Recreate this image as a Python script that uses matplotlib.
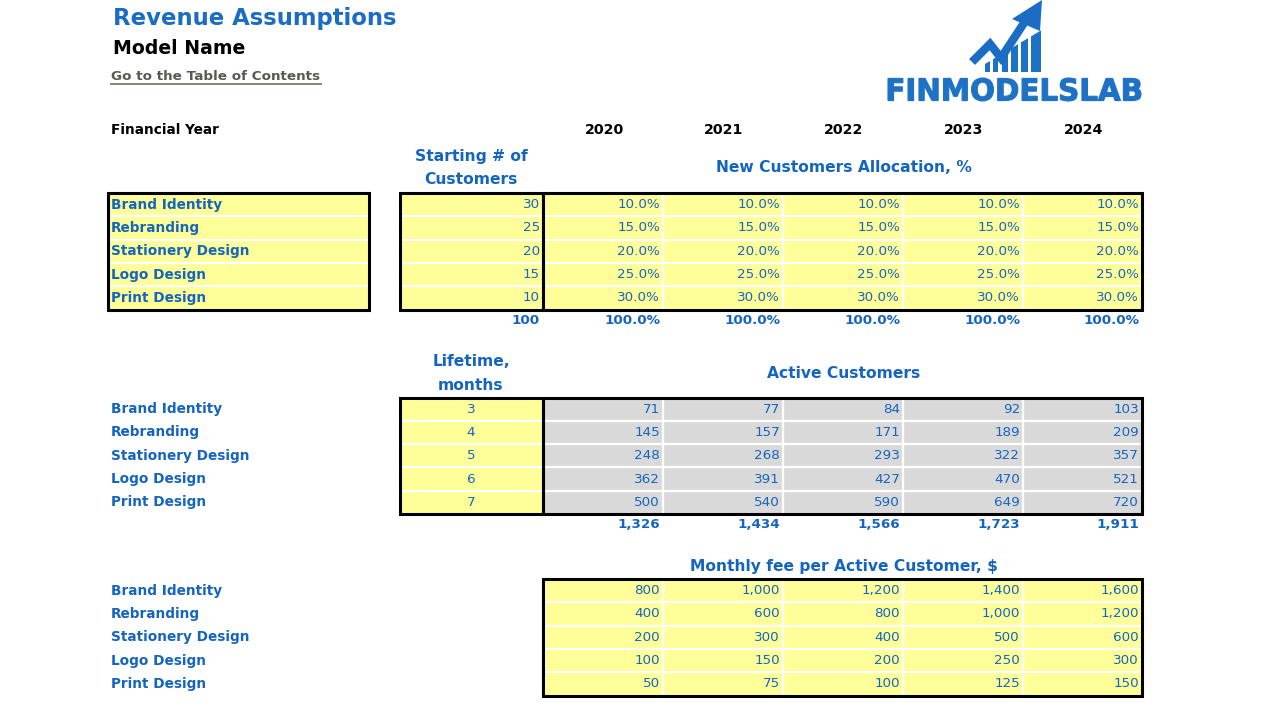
import numpy as np
import matplotlib.pyplot as plt
from matplotlib.patches import Rectangle, Polygon, PathPatch
from matplotlib.textpath import TextPath
from matplotlib.font_manager import FontProperties
from matplotlib.transforms import Affine2D

# ---- data read from the sheet ----
years = ['2020', '2021', '2022', '2023', '2024']
products = ['Brand Identity', 'Rebranding', 'Stationery Design', 'Logo Design', 'Print Design']
start_customers = [30, 25, 20, 15, 10]
start_total = 100
allocation = [
    [10.0, 10.0, 10.0, 10.0, 10.0],
    [15.0, 15.0, 15.0, 15.0, 15.0],
    [20.0, 20.0, 20.0, 20.0, 20.0],
    [25.0, 25.0, 25.0, 25.0, 25.0],
    [30.0, 30.0, 30.0, 30.0, 30.0],
]
allocation_totals = [100.0, 100.0, 100.0, 100.0, 100.0]
lifetime_months = [3, 4, 5, 6, 7]
active_customers = [
    [71, 77, 84, 92, 103],
    [145, 157, 171, 189, 209],
    [248, 268, 293, 322, 357],
    [362, 391, 427, 470, 521],
    [500, 540, 590, 649, 720],
]
active_totals = [1326, 1434, 1566, 1723, 1911]
monthly_fee = [
    [800, 1000, 1200, 1400, 1600],
    [400, 600, 800, 1000, 1200],
    [200, 300, 400, 500, 600],
    [100, 150, 200, 250, 300],
    [50, 75, 100, 125, 150],
]

BLUE = '#1565BF'
TITLE_BLUE = '#1A6CC4'
LOGO_BLUE = '#1E72C6'
YELLOW = '#FFFF99'
GREY = '#D9D9D9'
FONT = 'DejaVu Sans'
FS = 9.7      # cell values
FS_LAB = 9.8  # bold row labels
FS_HEAD = 11.2

fig = plt.figure(figsize=(12.8, 7.2), dpi=100)
ax = fig.add_axes([0, 0, 1, 1])
ax.set_xlim(0, 1280)
ax.set_ylim(720, 0)
ax.axis('off')

col_edges = [543, 663, 783, 903, 1023, 1142]
row_h = 23.3


def block(x0, x1, y0, fill, vlines=()):
    y1 = y0 + row_h * 5
    ax.add_patch(Rectangle((x0, y0), x1 - x0, y1 - y0, facecolor=fill, edgecolor='none', zorder=1))
    for i in range(1, 5):
        ax.plot([x0, x1], [y0 + i * row_h] * 2, color='white', lw=1.6, zorder=2)
    for xv in vlines:
        ax.plot([xv, xv], [y0, y1], color='white', lw=1.6, zorder=2)
    ax.add_patch(Rectangle((x0, y0), x1 - x0, y1 - y0, facecolor='none', edgecolor='black', lw=2.2, zorder=3))


def cell_text(x, y, s, ha='right', bold=False, color=BLUE, size=FS):
    ax.text(x, y, s, ha=ha, va='center', fontsize=size, family=FONT,
            fontweight='bold' if bold else 'normal', color=color, zorder=4)


def heading(x, y, s):
    ax.text(x, y, s, ha='center', va='center', fontsize=FS_HEAD, fontweight='bold', color=BLUE, family=FONT)


def row_labels(y0, x=111):
    for i, p in enumerate(products):
        cell_text(x, y0 + (i + 0.5) * row_h, p, ha='left', bold=True, size=FS_LAB)


# ---- header ----
ax.text(113, 18, 'Revenue Assumptions', fontsize=16.4, fontweight='bold', color=TITLE_BLUE,
        va='center', ha='left', family=FONT)
ax.text(113, 48, 'Model Name', fontsize=13.6, fontweight='bold', color='black',
        va='center', ha='left', family=FONT)
ax.text(111, 76, 'Go to the Table of Contents', fontsize=9.7, fontweight='bold', color='#5E574E',
        va='center', ha='left', family=FONT)
ax.plot([111, 321], [84, 84], color='#8A8478', lw=1.4)

# ---- logo ----
bar_x = [(985, 990), (993, 998), (1002, 1008), (1011, 1018), (1021, 1028), (1031, 1041)]
for xa, xb in bar_x:
    ax.add_patch(Polygon([(xa, 72), (xb, 72), (xb, 64 - (xb - 985) * 0.6), (xa, 64 - (xa - 985) * 0.6)],
                         closed=True, facecolor=LOGO_BLUE, edgecolor='none'))
ax.plot([972, 979, 990, 1001, 1024], [62, 55, 44, 58, 23], color=TITLE_BLUE, lw=6,
        solid_joinstyle='miter', solid_capstyle='butt')
ax.add_patch(Polygon([(1042, 0), (1012, 19), (1040, 31)], closed=True, facecolor=TITLE_BLUE, edgecolor='none'))

tp = TextPath((0, 0), 'FINMODELSLAB', size=30, prop=FontProperties(family=FONT, weight='bold'))
ext = tp.get_extents()
lx0, lx1, ly_top, ly_bot = 888, 1141, 78, 101
sx = (lx1 - lx0) / ext.width
sy = (ly_bot - ly_top) / ext.height
trans = Affine2D().translate(-ext.x0, -ext.y0).scale(sx, -sy).translate(lx0, ly_bot)
ax.add_patch(PathPatch(trans.transform_path(tp), facecolor=LOGO_BLUE, edgecolor=LOGO_BLUE, lw=0.8))

# ---- year row ----
ax.text(111, 130, 'Financial Year', fontsize=9.8, fontweight='bold', color='black', va='center', family=FONT)
for j, y in enumerate(years):
    ax.text((col_edges[j] + col_edges[j + 1]) / 2 + 1, 130, y, fontsize=10.2, fontweight='bold',
            color='black', ha='center', va='center', family=FONT)

# ---- section 1: starting customers / allocation ----
s1 = 193
heading(471, 157, 'Starting # of')
heading(471, 180, 'Customers')
heading(844, 168, 'New Customers Allocation, %')
block(108, 369, s1, YELLOW)
block(400, 543, s1, YELLOW)
block(543, 1142, s1, YELLOW, vlines=col_edges[1:-1])
row_labels(s1)
for i in range(5):
    yc = s1 + (i + 0.5) * row_h
    cell_text(540, yc, str(start_customers[i]))
    for j in range(5):
        cell_text(col_edges[j + 1] - 3, yc, f'{allocation[i][j]:.1f}%')
cell_text(540, 321, str(start_total), bold=True)
for j in range(5):
    cell_text(col_edges[j + 1] - 3, 321, f'{allocation_totals[j]:.1f}%', bold=True)

# ---- section 2: lifetime / active customers ----
s2 = 397.5
heading(471, 362, 'Lifetime,')
heading(471, 385, 'months')
heading(844, 373, 'Active Customers')
block(400, 543, s2, YELLOW)
block(543, 1142, s2, GREY, vlines=col_edges[1:-1])
row_labels(s2)
for i in range(5):
    yc = s2 + (i + 0.5) * row_h
    cell_text(471, yc, str(lifetime_months[i]), ha='center')
    for j in range(5):
        cell_text(col_edges[j + 1] - 3, yc, f'{active_customers[i][j]:,}')
for j in range(5):
    cell_text(col_edges[j + 1] - 3, 525, f'{active_totals[j]:,}', bold=True)

# ---- section 3: monthly fee ----
s3 = 579
heading(844, 567, 'Monthly fee per Active Customer, $')
block(543, 1142, s3, YELLOW, vlines=col_edges[1:-1])
row_labels(s3)
for i in range(5):
    yc = s3 + (i + 0.5) * row_h
    for j in range(5):
        cell_text(col_edges[j + 1] - 3, yc, f'{monthly_fee[i][j]:,}')

fig.savefig('out.png', dpi=100)
